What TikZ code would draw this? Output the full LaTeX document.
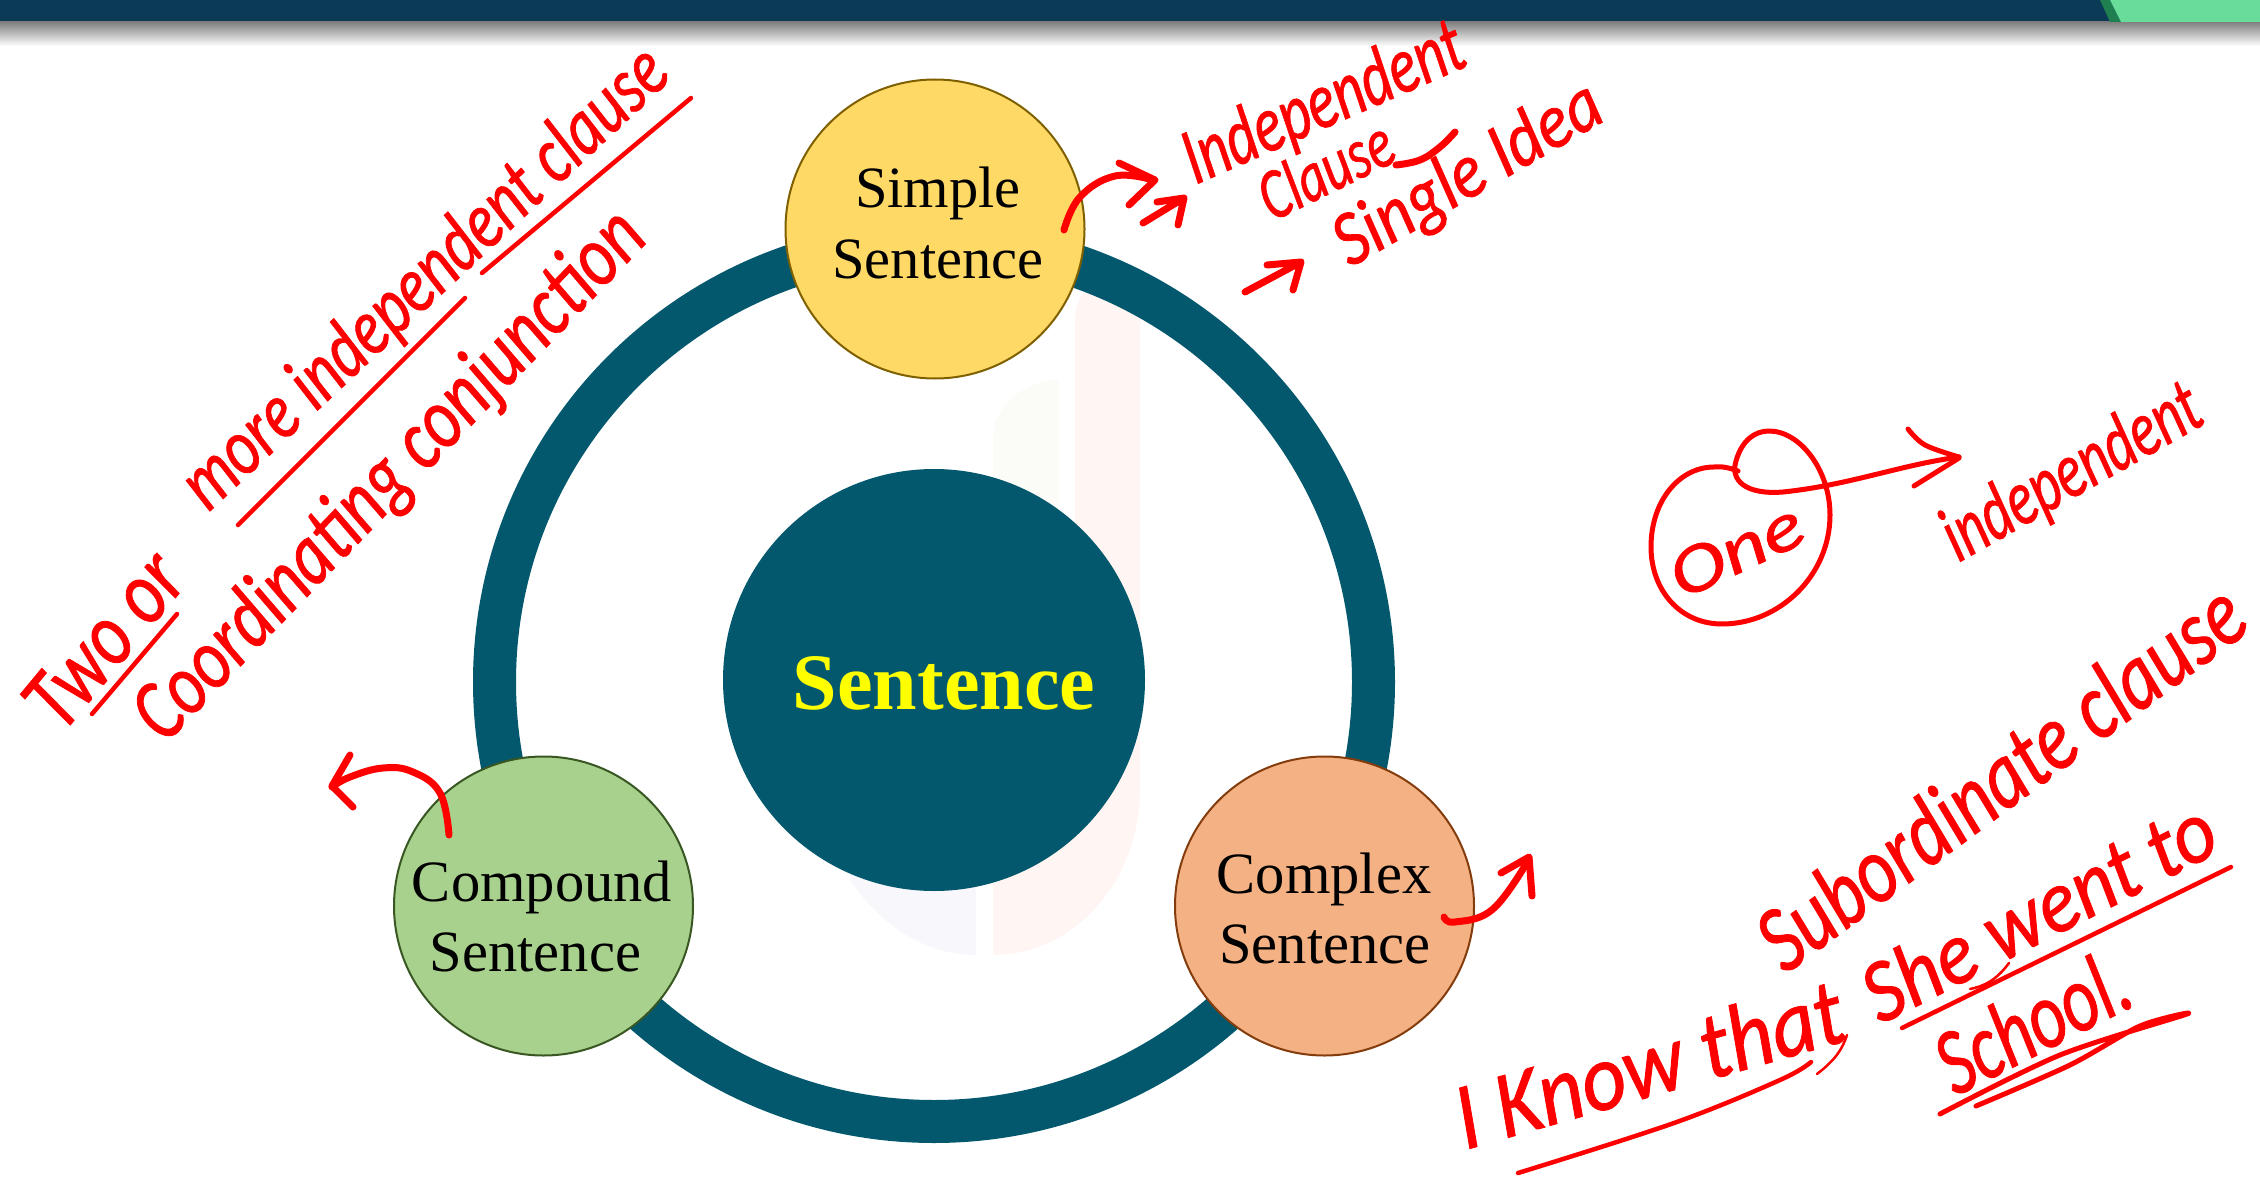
\documentclass[tikz,border=0pt]{standalone}
\usepackage{fontspec}
\usepackage{graphicx}
\setmainfont{Liberation Serif}
\newfontfamily\hwfont[ItalicFont={Carlito Italic},ItalicFeatures={FakeBold=1}]{Carlito}
\newcommand{\hwtext}[3]{\resizebox{#1pt}{#2pt}{\hwfont\itshape #3}}
\definecolor{ringc}{HTML}{03586D}
\definecolor{barc}{HTML}{0A3A55}
\definecolor{inkred}{HTML}{FF0000}
\definecolor{topgreen}{HTML}{68DC98}
\definecolor{topdark}{HTML}{207F50}
\definecolor{wmpink}{HTML}{FFF6F4}
\definecolor{wmgreen}{HTML}{FBFCF8}
\definecolor{wmlav}{HTML}{F8F7FB}
\definecolor{yfill}{HTML}{FFD966}
\definecolor{ydraw}{HTML}{7F6000}
\definecolor{gfill}{HTML}{A9D18E}
\definecolor{gdraw}{HTML}{385723}
\definecolor{ofill}{HTML}{F4B183}
\definecolor{odraw}{HTML}{843C0C}
\definecolor{coretext}{HTML}{FFFF00}
\tikzset{
  bubble/.style={circle,minimum size=299pt,inner sep=0pt,line width=2pt},
  lbl/.style={anchor=base,inner sep=0pt,font=\fontsize{58.5}{58.5}\selectfont,text=black},
  hw/.style={anchor=base west,inner sep=0pt,text=inkred},
  pen/.style={draw=inkred,line width=7pt,line cap=round,line join=round},
  penthin/.style={draw=inkred,line width=4.5pt,line cap=round,line join=round},
}
\begin{document}
\begin{tikzpicture}[x=1pt,y=-1pt]
\useasboundingbox (0,0) rectangle (2260,1180);
% header
\fill[barc] (0,0) rectangle (2260,22);
\shade[top color=black!50,bottom color=white] (0,22) rectangle (2260,46);
\fill[topdark] (2100,0) -- (2110,22) -- (2121,22) -- (2110,0) -- cycle;
\fill[topgreen] (2110,0) -- (2121,22) -- (2260,22) -- (2260,0) -- cycle;
% watermark
\fill[wmpink] (1075,320) .. controls (1075,300) and (1085,285) .. (1100,285) -- (1140,285) -- (1140,790) .. controls (1140,880) and (1075,955) .. (993,955) -- (993,800) -- (1075,800) -- cycle;
\fill[wmgreen] (993,440) .. controls (993,400) and (1030,380) .. (1059,380) -- (1059,560) -- (993,560) -- cycle;
\fill[wmlav] (850,880) .. controls (880,925) and (925,955) .. (976,955) -- (976,800) -- (850,800) -- cycle;
% ring
\node[circle,draw=ringc,line width=43pt,minimum size=879pt,inner sep=0pt] (ring) at (934,682) {};
\node[circle,fill=ringc,minimum size=422pt,inner sep=0pt] (core) at (934,680) {};
\node[anchor=base,inner sep=0pt,text=coretext,font=\fontsize{80}{80}\selectfont\bfseries] (coreT) at (944,709) {Sentence};
\node[bubble,fill=yfill,draw=ydraw] (simple) at (935,229) {};
\node[bubble,fill=gfill,draw=gdraw] (compound) at (543.5,906) {};
\node[bubble,fill=ofill,draw=odraw] (complex) at (1324.5,906) {};
\node[lbl] (s1) at (938,207) {Simple};
\node[lbl] (s2) at (938,278) {Sentence};
\node[lbl] (c1) at (542,901) {Compound};
\node[lbl] (c2) at (535.5,971) {Sentence};
\node[lbl] (x1) at (1324,893) {Complex};
\node[lbl] (x2) at (1325,963) {Sentence};
% handwriting text
\node[hw,rotate=50.4] (h1a) at (62,735) {\hwtext{200}{58}{Two or}};
\node[hw,rotate=43.1] (h1b) at (208,513) {\hwtext{637}{56}{more independent clause}};
\node[hw,rotate=46.2] (h2) at (165,745) {\hwtext{700}{60}{Coordinating conjunction}};
\node[hw,rotate=23.6] (h3) at (1195,185) {\hwtext{300}{56}{Independent}};
\node[hw,rotate=26] (h4) at (1272,222) {\hwtext{142}{50}{Clause}};
\node[hw,rotate=30] (h5) at (1350,268) {\hwtext{298}{54}{Single Idea}};
\node[hw,rotate=25] (h6) at (1682,600) {\hwtext{140}{45}{One}};
\node[hw,rotate=29.4] (h7) at (1958,563) {\hwtext{286}{55}{independent}};
\node[hw,rotate=36.5] (h8) at (1785,975) {\hwtext{582}{66}{Subordinate clause}};
\node[hw,rotate=16] (h9) at (1465,1150) {\hwtext{400}{66}{I Know that}};
\node[hw,rotate=27] (h10) at (1880,1025) {\hwtext{385}{62}{She went to}};
\node[hw,rotate=27] (h11) at (1955,1097) {\hwtext{205}{66}{School.}};
% underlines
\draw[penthin] (92,714) -- (177,614);
\draw[penthin] (238,525) -- (465,298);
\draw[penthin] (482,273) -- (691,98);
\draw[penthin] plot[smooth,tension=.6] coordinates {(1518,1173) (1674,1123) (1780,1080) (1811,1062)};
\draw[draw=inkred,line width=2.5pt,line cap=round] (1817,1074) .. controls (1835,1060) and (1842,1050) .. (1847,1035);
\draw[penthin] (1902,1028) -- (2231,867);
\draw[draw=inkred,line width=2.5pt,line cap=round] (1970,989) .. controls (1990,985) and (2000,975) .. (2009,963);
\draw[penthin,line width=5pt] plot[smooth,tension=.5] coordinates {(1940,1114) (2060,1055) (2187,1014) (2140,1026) (2070,1065) (1976,1106)};
% clause tail
\draw[pen] plot[smooth,tension=.7] coordinates {(1396,165) (1420,160) (1440,147) (1455,132)};
% bullet arrows
\draw[pen] (1143,223) -- (1184,198) (1157,202) -- (1184,198) -- (1178,225);
\draw[pen] (1245,292) -- (1301,262) (1267,265) -- (1301,262) -- (1293,290);
% simple arrow
\draw[pen] plot[smooth,tension=.7] coordinates {(1064,230) (1080,197) (1115,176) (1153,180)};
\draw[pen] (1119,163) -- (1155,180) -- (1129,205);
% compound arrow
\draw[pen] plot[smooth,tension=.7] coordinates {(449,835) (440,793) (413,772) (383,768) (350,777) (332,787)};
\draw[pen] (350,755) -- (332,786) -- (353,807);
% complex arrow
\draw[pen] plot[smooth,tension=.7] coordinates {(1444,917) (1455,922) (1493,909) (1529,859)};
\draw[pen] (1501,873) -- (1529,857) -- (1532,896);
% One loop and arrow
\draw[penthin,line width=5pt] (1959,457) .. controls (1900,465) and (1850,485) .. (1783,492) .. controls (1745,495) and (1730,480) .. (1736,461) .. controls (1742,440) and (1755,431) .. (1769,431) .. controls (1800,431) and (1830,470) .. (1830,515) .. controls (1830,575) and (1780,624) .. (1722,624) .. controls (1680,624) and (1651,590) .. (1651,547) .. controls (1651,500) and (1680,467) .. (1714,467) .. controls (1722,466) and (1730,468) .. (1738,471);
\draw[penthin,line width=5pt] plot[smooth,tension=.6] coordinates {(1908,429) (1925,445) (1959,457)};
\draw[penthin,line width=5pt] (1914,486) -- (1959,458);
\end{tikzpicture}
\end{document}
